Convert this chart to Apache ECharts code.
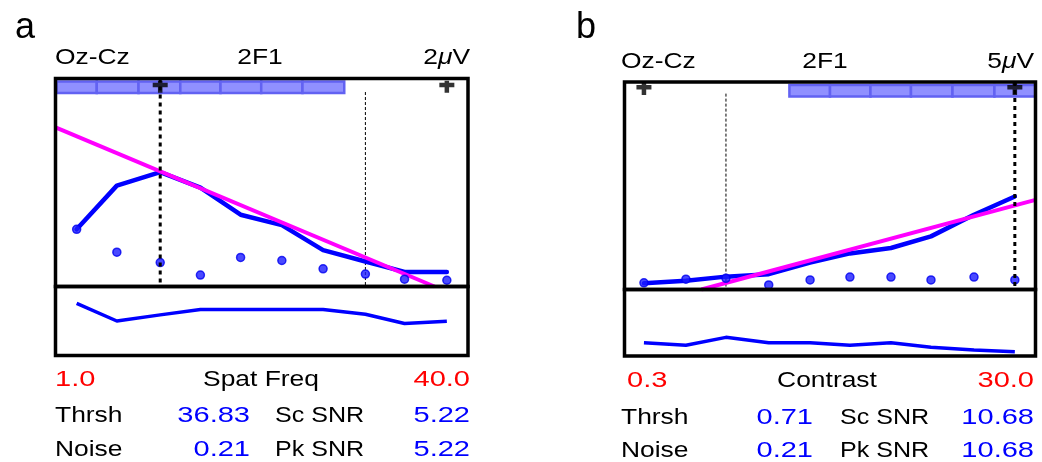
<!DOCTYPE html>
<html>
<head>
<meta charset="utf-8">
<script src="https://cdn.jsdelivr.net/npm/echarts@6/dist/echarts.min.js"></script>
<style>
  html, body { margin: 0; padding: 0; background: #fff; }
  #chart { width: 1042px; height: 462px; }
</style>
</head>
<body>
<div id="chart"></div>
<script>
// Sweep VEP, Oz-Cz, second harmonic (2F1)

// ---- panel a: spatial-frequency sweep (linear axis) ----
const freqA    = [3.0, 6.8, 10.9, 14.7, 18.5, 22.4, 26.3, 30.3, 34.0, 38.0];
const ampA     = [0.55, 0.97, 1.10, 0.95, 0.69, 0.59, 0.35, 0.24, 0.14, 0.14];
const noiseA   = [0.55, 0.33, 0.23, 0.11, 0.28, 0.25, 0.17, 0.12, 0.07, 0.06];
const phaseA   = [92, 0, 32, 60, 60, 60, 60, 35, -13, -1];
const sigBinsA = [0, 1, 2, 3, 4, 5, 6];
const plusBinsA = [2, 9];
const dottedBinA = 2;
const dashedBinA = 7;
const fitStartA = [1.0, 1.53];
const thrshA = 36.83;
const rangeA = [1.0, 40.0];
const scaleA = 2;            // µV at top of amplitude plot
const noiseTextA = 0.21;
const scSnrA = 5.22;
const pkSnrA = 5.22;

// ---- panel b: contrast sweep (log axis) ----
const contrastB = [0.373, 0.597, 0.935, 1.51, 2.40, 3.75, 5.94, 9.30, 15.06, 23.8];
const ampB      = [0.15, 0.21, 0.31, 0.37, 0.65, 0.87, 1.00, 1.28, 1.80, 2.24];
const noiseB    = [0.16, 0.25, 0.27, 0.11, 0.23, 0.30, 0.30, 0.23, 0.30, 0.23];
const phaseB    = [-108, -122, -79, -108, -108, -122, -108, -133, -148, -157];
const sigBinsB  = [4, 5, 6, 7, 8, 9];
const plusBinsB = [0, 9];
const dottedBinB = 9;
const dashedBinB = 2;
const fitEndB = [30.0, 2.16];
const thrshB = 0.71;
const rangeB = [0.3, 30.0];
const scaleB = 5;
const noiseTextB = 0.21;
const scSnrB = 10.68;
const pkSnrB = 10.68;

const channel = 'Oz-Cz';
const harmonic = '2F1';
const sweepNames = ['Spat Freq', 'Contrast'];

// ---- layout ----
const FONT = '"Liberation Sans", Arial, Helvetica, sans-serif';
const BLUE = '#0000ff';
const MAGENTA = '#ff00ff';

const grids = [
  { left: 55.5,  top: 78.5, width: 412.5, height: 208 },
  { left: 55.5,  top: 286.5, width: 412.5, height: 69 },
  { left: 624.5, top: 82,   width: 411,   height: 207.5 },
  { left: 624.5, top: 289.5, width: 411,  height: 66.5 }
];

const hidden = { show: false };
function xAx(i, type, range) {
  return { gridIndex: i, type: type, min: range[0], max: range[1], logBase: 10,
    axisLine: hidden, axisTick: hidden, axisLabel: hidden, splitLine: hidden };
}
function yAx(i, min, max) {
  return { gridIndex: i, type: 'value', min: min, max: max,
    axisLine: hidden, axisTick: hidden, axisLabel: hidden, splitLine: hidden };
}

// Significance strip: one segment per bin, spanning half-way to each neighbour
function sigBarItem(xs) {
  return function (params, api) {
    const i = api.value(2);
    const cs = params.coordSys;
    const c = api.coord([xs[i], 0])[0];
    const prev = i > 0 ? api.coord([xs[i - 1], 0])[0] : null;
    const next = i < xs.length - 1 ? api.coord([xs[i + 1], 0])[0] : null;
    let l = prev !== null ? (prev + c) / 2 : c - (next - c) / 2;
    let r = next !== null ? (next + c) / 2 : c + (c - prev) / 2;
    l = Math.max(l, cs.x);
    r = Math.min(r, cs.x + cs.width);
    return {
      type: 'rect',
      shape: { x: l, y: cs.y + 3, width: r - l, height: 11.5 },
      style: { fill: '#9090ff', stroke: '#6262f2', lineWidth: 2.5 }
    };
  };
}

const plusPath = 'path://M0,2h15v4.5h-15z M5.25,0h4.5v12h-4.5z';

function panelSeries(p) {
  const xi = p.axis, yi = p.axis;
  const pts = (ys) => p.xs.map((x, i) => [x, ys[i]]);
  return [
    { type: 'custom', xAxisIndex: xi, yAxisIndex: yi, z: 1,
      renderItem: sigBarItem(p.xs),
      data: p.sigBins.map(i => [p.xs[i], 0, i]) },
    { type: 'line', xAxisIndex: xi, yAxisIndex: yi, symbol: 'none', z: 2,
      lineStyle: { color: '#000', width: 1, type: [3, 2] },
      data: [[p.xs[p.dashedBin], p.dashedTop], [p.xs[p.dashedBin], 0]] },
    { type: 'line', xAxisIndex: xi, yAxisIndex: yi, symbol: 'none', z: 3,
      lineStyle: { color: BLUE, width: 4.5, cap: 'round', join: 'round' },
      data: pts(p.amp) },
    { type: 'line', xAxisIndex: xi, yAxisIndex: yi, symbol: 'none', z: 4,
      lineStyle: { color: MAGENTA, width: 4 },
      data: p.fit },
    { type: 'scatter', xAxisIndex: xi, yAxisIndex: yi, z: 5,
      symbol: 'circle', symbolSize: 8,
      itemStyle: { color: '#1c1cff', borderColor: '#0000f0', borderWidth: 1.5 },
      data: pts(p.noise) },
    { type: 'line', xAxisIndex: xi, yAxisIndex: yi, symbol: 'none', z: 6,
      lineStyle: { color: '#000', width: 3, type: [4, 4] },
      data: [[p.xs[p.dottedBin], p.top], [p.xs[p.dottedBin], 0]] },
    { type: 'scatter', xAxisIndex: xi, yAxisIndex: yi, z: 7,
      symbol: plusPath, symbolSize: [15, 12],
      itemStyle: { color: '#000' },
      data: p.plusBins.map(i => [p.xs[i], p.plusLevel]) },
    { type: 'line', xAxisIndex: xi + 1, yAxisIndex: yi + 1, symbol: 'none', z: 3,
      lineStyle: { color: BLUE, width: 3.5, join: 'round' },
      data: pts(p.phase) }
  ];
}

const series = [].concat(
  panelSeries({ axis: 0, xs: freqA, amp: ampA, noise: noiseA, phase: phaseA,
    sigBins: sigBinsA, plusBins: plusBinsA, dottedBin: dottedBinA, dashedBin: dashedBinA,
    fit: [fitStartA, [thrshA, 0]], top: scaleA, plusLevel: 1.92, dashedTop: 1.87 }),
  panelSeries({ axis: 2, xs: contrastB, amp: ampB, noise: noiseB, phase: phaseB,
    sigBins: sigBinsB, plusBins: plusBinsB, dottedBin: dottedBinB, dashedBin: dashedBinB,
    fit: [[thrshB, 0], fitEndB], top: scaleB, plusLevel: 4.83, dashedTop: 4.72 })
);

// ---- text and frames ----
function txt(x, y, text, opts) {
  opts = opts || {};
  const size = opts.size || 22;
  return {
    type: 'text', x: x, y: y, z: 200,
    scaleX: opts.sx || 1.2,
    style: {
      text: text,
      font: size + 'px ' + FONT,
      fill: opts.fill || '#000',
      align: opts.align || 'left',
      verticalAlign: 'middle',
      rich: opts.rich
    }
  };
}
const NUM = 1.32;
const muRich = { mu: { font: 'italic 22px ' + FONT, fill: '#000' } };

function frame(g) {
  return { type: 'rect', z: 150, silent: true,
    shape: { x: g.left, y: g.top, width: g.width, height: g.height },
    style: { fill: 'none', stroke: '#000', lineWidth: 3.5 } };
}

function textBlock(o) {
  return [
    txt(o.letterX, 28, o.letter, { size: 36, sx: 1.0 }),
    txt(o.left, o.head, channel),
    txt(o.center, o.head, harmonic, { align: 'center' }),
    txt(o.right, o.head, o.scale + '{mu|μ}V', { align: 'right', rich: muRich }),
    txt(o.minX, o.r1, o.range[0].toFixed(1), { fill: '#ff0000', sx: NUM }),
    txt(o.nameX, o.r1, o.name, { align: 'center' }),
    txt(o.right, o.r1, o.range[1].toFixed(1), { fill: '#ff0000', align: 'right', sx: NUM }),
    txt(o.left, o.r2, 'Thrsh'),
    txt(o.numR, o.r2, o.thrsh.toFixed(2), { fill: BLUE, align: 'right', sx: NUM }),
    txt(o.labL, o.r2, 'Sc SNR', { sx: 1.14 }),
    txt(o.right, o.r2, o.sc.toFixed(2), { fill: BLUE, align: 'right', sx: NUM }),
    txt(o.left, o.r3, 'Noise'),
    txt(o.numR, o.r3, o.noise.toFixed(2), { fill: BLUE, align: 'right', sx: NUM }),
    txt(o.labL, o.r3, 'Pk SNR', { sx: 1.14 }),
    txt(o.right, o.r3, o.pk.toFixed(2), { fill: BLUE, align: 'right', sx: NUM })
  ];
}

const graphic = [].concat(
  grids.map(frame),
  textBlock({ letter: 'a', letterX: 15, left: 55, center: 260, right: 470, head: 58,
    minX: 55, nameX: 261, numR: 250, labL: 275, r1: 379.5, r2: 415.5, r3: 449.5,
    scale: scaleA, range: rangeA, name: sweepNames[0], thrsh: thrshA,
    noise: noiseTextA, sc: scSnrA, pk: pkSnrA }),
  textBlock({ letter: 'b', letterX: 576, left: 621, center: 825, right: 1034, head: 61.5,
    minX: 627, nameX: 827, numR: 813, labL: 840, r1: 381, r2: 417.5, r3: 450.5,
    scale: scaleB, range: rangeB, name: sweepNames[1], thrsh: thrshB,
    noise: noiseTextB, sc: scSnrB, pk: pkSnrB })
);

const chart = echarts.init(document.getElementById('chart'), null, { renderer: 'canvas' });
chart.setOption({
  animation: false,
  backgroundColor: '#fff',
  grid: grids.map(g => Object.assign({ show: false }, g)),
  xAxis: [xAx(0, 'value', rangeA), xAx(1, 'value', rangeA), xAx(2, 'log', rangeB), xAx(3, 'log', rangeB)],
  yAxis: [yAx(0, 0, scaleA), yAx(1, -180, 180), yAx(2, 0, scaleB), yAx(3, -180, 180)],
  series: series,
  graphic: graphic
});
</script>
</body>
</html>
